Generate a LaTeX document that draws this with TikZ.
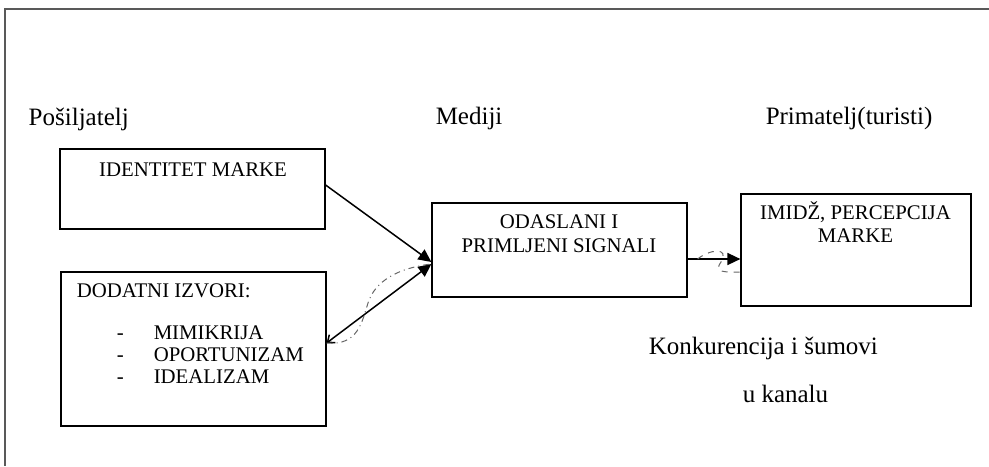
\documentclass[tikz,border=0pt]{standalone}
\usepackage{fontspec}
\setmainfont{Liberation Serif}
\usetikzlibrary{positioning}
\usetikzlibrary{calc}
\usetikzlibrary{arrows.meta}

\begin{document}
\begin{tikzpicture}[x=0.5pt,y=-0.5pt,>={Triangle[length=6.5pt,width=6pt]},
		line width=0.75pt]
		\tikzstyle{box}=[draw,line width=0.6pt,rectangle,inner sep=0pt]
		\tikzstyle{head}=[font=\fontsize{12.5}{15}\selectfont,inner sep=0pt]
		\tikzstyle{btext}=[font=\fontsize{10.4}{11}\selectfont,inner sep=0pt,align=center]
		\tikzstyle{noise}=[gray!80!black,line width=0.5pt]
		
		\useasboundingbox (0,0) rectangle (989,466);
		\draw[gray!70!black,line width=0.8pt] (989,9) -- (5,9) -- (5,466);
		
		\node[head,anchor=base west] (sender)   at (28,125)  {Pošiljatelj};
		\node[head,anchor=base west] (media)    at (435,124) {Mediji};
		\node[head,anchor=base west] (receiver) at (765,124) {Primatelj(turisti)};
		
		\node[box,minimum width=132.5pt,minimum height=40pt]   (ident)   at (192.5,189) {};
		\node[box,minimum width=132.5pt,minimum height=77pt]   (sources) at (193.5,349) {};
		\node[box,minimum width=127.5pt,minimum height=47pt]   (signals) at (559.5,250) {};
		\node[box,minimum width=115pt,minimum height=56pt]     (image)   at (856,250)   {};
		
		\node[btext,anchor=base] (identtxt)   at (193,176)   {IDENTITET MARKE};
		\node[btext,anchor=base] (signalstxt) at (559,252)   {ODASLANI I\\[0.6pt]PRIMLJENI SIGNALI};
		\node[btext,anchor=base] (imagetxt)   at (855.5,242) {IMIDŽ, PERCEPCIJA\\[0.4pt]MARKE};
		\node[btext,anchor=base west] (sourcestxt) at (76,297) {DODATNI IZVORI:};
		\node[btext,anchor=base west] (dash1) at (116,339) {-};
		\node[btext,anchor=base west] (dash2) at (116,361) {-};
		\node[btext,anchor=base west] (dash3) at (116,383) {-};
		\node[btext,anchor=base west] (item1) at (153,339) {MIMIKRIJA};
		\node[btext,anchor=base west] (item2) at (153,361) {OPORTUNIZAM};
		\node[btext,anchor=base west] (item3) at (153,383) {IDEALIZAM};
		
		\node[head,anchor=base west] (noise1) at (648,354) {Konkurencija i šumovi};
		\node[head,anchor=base west] (noise2) at (742,402) {u kanalu};
		
		\coordinate (identout)   at ([yshift=2pt]ident.east);
		\coordinate (sourcesout) at ([yshift=3pt]sources.east);
		\coordinate (signalsin)  at ([yshift=-6pt]signals.west);
		\coordinate (signalsin2) at ([yshift=-7pt]signals.west);
		\coordinate (signalsout) at ([yshift=-4.5pt]signals.east);
		\coordinate (imagein)    at (image.west |- signalsout);
		
		\draw[->] (identout) -- (signalsin);
		\draw[{Straight Barb[length=3pt,width=5pt]}->] (sourcesout) -- (signalsin2);
		\draw[->] (signalsout) -- (imagein);
		
		% noise on the channels
		\draw[noise,dash dot] (sourcesout) .. controls (358,346) and (362,322) .. (368,303)
		.. controls (375,281) and (398,268) .. (signalsin2);
		\draw[noise,dashed] ([xshift=5pt]signalsout) .. controls (710,249) and (730,247) .. (721,262)
		.. controls (713,273) and (725,272) .. ([yshift=-6.5pt]imagein);
		\end{tikzpicture}
\end{document}
